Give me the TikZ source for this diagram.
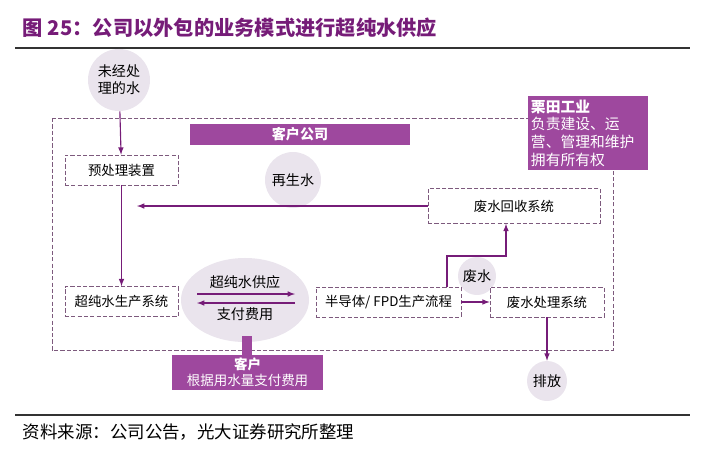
\documentclass[tikz,border=0pt]{standalone}
\usepackage{fontspec}
\setmainfont{Noto Sans CJK SC}
\usetikzlibrary{positioning,shapes.geometric}
\definecolor{KTpurple}{RGB}{158,72,158}
\definecolor{KTdark}{RGB}{118,28,120}
\definecolor{KTline}{RGB}{125,90,125}
\definecolor{KTbubble}{RGB}{234,228,237}

\begin{document}
\begin{tikzpicture}[x=0.025cm, y=-0.025cm,
            box/.style={draw=KTline, dash pattern=on 3pt off 1.5pt, fill=white, text centered, minimum width=2.83cm, minimum height=0.75cm, font=\fontsize{9.5}{11}\selectfont},
            bar/.style={fill=KTpurple, text=white, inner sep=2pt, font=\fontsize{10}{12}\selectfont\bfseries},
            bubble/.style={circle, fill=KTbubble, inner sep=0pt, font=\fontsize{10}{12}\selectfont},
            arrow/.style={-latex, thick, KTdark},
            link/.style={thick, KTdark}
        ]
            \useasboundingbox (0,0) rectangle (705,449);
            % title and rules
            \node (title) [anchor=west, text=KTdark, font=\fontsize{14.4}{16}\selectfont\bfseries] at (18,28) {图 25：公司以外包的业务模式进行超纯水供应};
            \draw [line width=1pt, black!80] (15,48) -- (690,48);
            \draw [line width=1pt, black!80] (15,415) -- (690,415);
            \node (source) [anchor=west, font=\fontsize{12.4}{14}\selectfont] at (18,432) {资料来源：公司公告，光大证券研究所整理};

            % customer plant frame
            \draw [KTline, dash pattern=on 3pt off 1.5pt] (52,118) rectangle (613,350);

            \node (raw) [bubble, minimum size=1.55cm, align=center] at (119,80) {未经处\\理的水};
            \node (reuse) [bubble, minimum size=1.4cm] at (293,180) {再生水};
            \node (supply) [ellipse, fill=KTbubble, minimum width=3.2cm, minimum height=2.1cm] at (245,300) {};
            \node (waste) [bubble, minimum size=0.95cm] at (477,276) {废水};
            \node (outlet) [bubble, minimum size=1cm] at (547,381) {排放};

            \fill [KTpurple] (242,336) rectangle (252,358);
            \node (client) [bar, minimum width=5.5cm, minimum height=0.53cm] at (300,134.5) {客户公司};
            \node (kurita) [bar, minimum width=3cm, minimum height=1.85cm, text width=2.85cm, align=left, font=\fontsize{10.5}{12.6}\selectfont] at (588,133) {\textbf{栗田工业}\\负责建设、运\\营、管理和维护\\拥有所有权};
            \node (payer) [bar, minimum width=3.78cm, minimum height=0.78cm, align=center, font=\fontsize{9.6}{11.5}\selectfont] at (247.5,372.5) {\textbf{客户}\\根据用水量支付费用};

            \node (pre) [box] at (121.5,170) {预处理装置};
            \node (upw) [box] at (121.5,301.5) {超纯水生产系统};
            \node (recycle) [box, minimum width=4.3cm, minimum height=0.875cm] at (514,206) {废水回收系统};
            \node (fab) [box, minimum width=3.63cm] at (388.5,302) {半导体/ FPD生产流程};
            \node (treat) [box, minimum width=2.85cm] at (547,302) {废水处理系统};

            \node (supplytxt) [font=\fontsize{10}{12}\selectfont] at (245,282) {超纯水供应};
            \node (paytxt) [font=\fontsize{10}{12}\selectfont] at (245,314) {支付费用};
            \coordinate (supl) at (197,294);
            \coordinate (supr) at (295,294);
            \coordinate (payl) at (197,303);
            \coordinate (payr) at (295,303);
            \coordinate (back) at (137,206);
            \coordinate (bend) at (447,256);

            \draw [arrow] (raw) -- (pre);
            \draw [arrow] (pre) -- (upw);
            \draw [arrow] (recycle.west) -- (back);
            \draw [arrow] (supl) -- (supr);
            \draw [arrow] (payr) -- (payl);
            \draw [arrow] (fab.east) -- (treat.west);
            \draw [arrow] (fab.north -| bend) -- (bend) -| ([xshift=-0.2cm]recycle.south);
            \draw [arrow] (treat) -- (outlet);
        \end{tikzpicture}
\end{document}
